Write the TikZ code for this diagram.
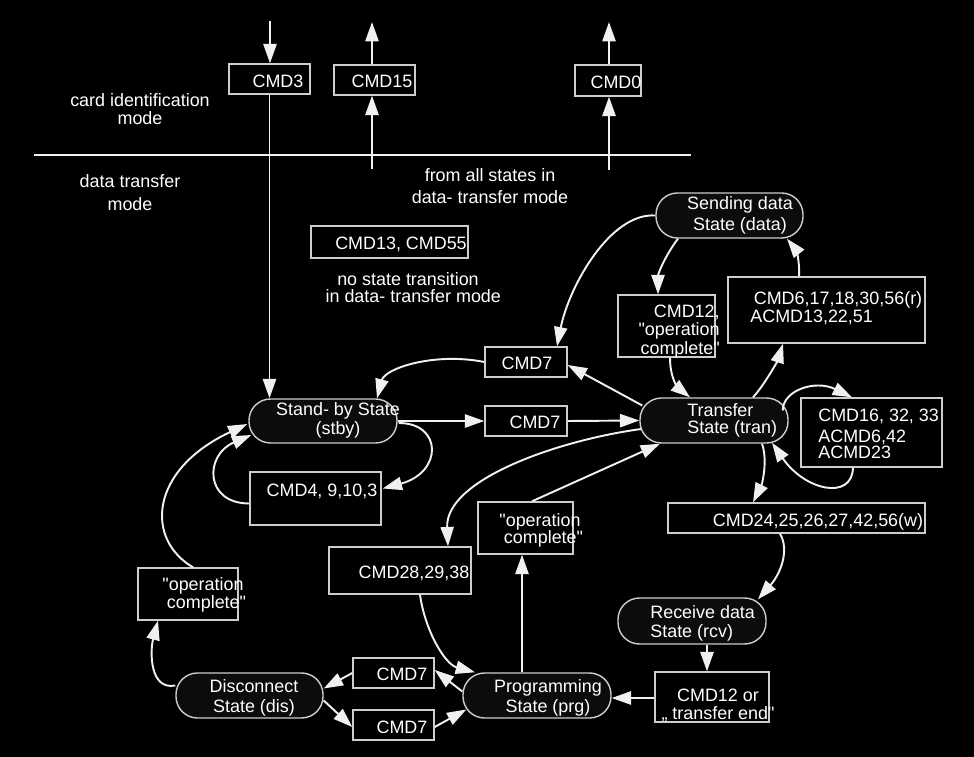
\documentclass[tikz,border=0pt]{standalone}
\usepackage{fontspec}
\setmainfont{Liberation Sans}[Ligatures=TeXOff]
\usetikzlibrary{arrows.meta,calc,fit}
\definecolor{bxline}{RGB}{205,205,205}
\definecolor{cnline}{RGB}{240,240,240}
\definecolor{stfill}{RGB}{12,12,12}
\begin{document}
\begin{tikzpicture}[x=0.02cm,y=-0.02cm,
  box/.style={draw=bxline,line width=0.8pt,fill=black,inner sep=0pt},
  state/.style={draw=bxline,line width=0.8pt,fill=stfill,inner sep=0pt,rounded corners=0.43cm},
  txt/.style={text=white,inner sep=0pt,font=\fontsize{10.2pt}{11pt}\selectfont},
  arr/.style={draw=cnline,line width=1.1pt,-{Triangle[length=11pt,width=7.5pt]}},
  sep/.style={draw=cnline,line width=0.9pt}]
\fill[black] (0,0) rectangle (974,757);
\useasboundingbox (0,0) rectangle (974,757);

% ---------- boxes ----------
\node[box,fit={(229,64) (310,94)}] (cmd3) {};
\node[box,fit={(334,65) (415,95)}] (cmd15) {};
\node[box,fit={(575,65) (641,96)}] (cmd0) {};
\node[box,fit={(311,226) (468,258)}] (cmd13) {};
\node[box,fit={(485,347) (567,377)}] (c7a) {};
\node[box,fit={(485,406) (567,436)}] (c7b) {};
\node[box,fit={(250,472) (381,525)}] (cmd4) {};
\node[box,fit={(478,502) (573,554)}] (opc1) {};
\node[box,fit={(329,547) (471,594)}] (cmd28) {};
\node[box,fit={(138,568) (238,620)}] (opc2) {};
\node[box,fit={(353,658) (434,688)}] (c7c) {};
\node[box,fit={(353,710) (434,740)}] (c7d) {};
\node[box,fit={(618,295) (715,357)}] (cmd12a) {};
\node[box,fit={(728,277) (925,343)}] (cmd6) {};
\node[box,fit={(801,398) (942,467)}] (cmd16) {};
\node[box,fit={(668,503) (925,533)}] (cmd24) {};
\node[box,fit={(655,672) (769,722)}] (cmd12b) {};

% ---------- states ----------
\node[state,fit={(249,399) (397,443)}] (stby) {};
\node[state,fit={(656,193) (803,238)}] (data) {};
\node[state,fit={(640,398) (788,443)}] (tran) {};
\node[state,fit={(618,598) (766,644)}] (rcv) {};
\node[state,fit={(463,673) (611,718)}] (prg) {};
\node[state,fit={(176,673) (323,718)}] (dis) {};

% ---------- mode separator ----------
\coordinate (hl1) at (34,155);
\coordinate (hl2) at (691,155);
\draw[sep] (hl1) -- (hl2);

% ---------- top arrows ----------
\coordinate (in3) at (270,21);
\draw[arr] (in3) -- (in3 |- cmd3.north);
\draw[arr] (cmd3.south) -- (cmd3.south |- stby.north);
\coordinate (f15) at (372,169);
\coordinate (o15) at (372,22);
\draw[arr] (f15) -- (f15 |- cmd15.south);
\draw[arr] (f15 |- cmd15.north) -- (o15);
\coordinate (f0) at (609,170);
\coordinate (o0) at (609,22);
\draw[arr] (f0) -- (f0 |- cmd0.south);
\draw[arr] (f0 |- cmd0.north) -- (o0);

% ---------- connectors ----------
\draw[arr] (data.west) .. controls +(-45,-3) and +(12,-60) .. ($(c7a.north)+(31,0)$);
\draw[arr] (c7a.west) .. controls +(-50,-10) and +(8,-30) .. ($(stby.north)+(54,0)$);
\draw[arr] ($(tran.west)+(3,-15)$) -- ($(c7a.east)+(0,3)$);
\draw[arr] (stby.east) -- (c7b.west);
\draw[arr] (c7b.east) -- (tran.west);
\draw[arr] ($(stby.east)+(1,2)$) .. controls +(44,0) and +(60,-16) .. ($(cmd4.east)+(1,-10)$);
\draw[arr] ($(cmd4.west)+(0,5)$) .. controls +(-45,0) and +(-47,20) .. ($(stby.west)+(3,14)$);
\draw[arr] ($(opc2.north)+(5,0)$) .. controls +(-48,-28) and +(-98,46) .. ($(stby.west)+(-1,3)$);
\draw[arr] ($(dis.west)+(0,-10)$) .. controls +(-26,5) and +(-8,30) .. ($(opc2.south)+(-30,0)$);
\draw[arr] (c7c.west) -- ($(dis.east)+(0,-7)$);
\draw[arr] ($(dis.east)+(0,5)$) -- ($(c7d.west)+(0,2)$);
\draw[arr] ($(c7d.east)+(0,2)$) -- ($(prg.west)+(4,14)$);
\draw[arr] ($(prg.west)+(0,-4)$) -- ($(c7c.east)+(0,-3)$);
\draw[arr] ($(cmd28.south)+(20,0)$) .. controls +(5,36) and +(-30,-8) .. ($(prg.north)+(-62,0)$);
\draw[arr] ($(tran.west)+(2,8.5)$) .. controls +(-82,11) and +(-3,-67) .. ($(cmd28.north)+(48,0)$);
\draw[arr] ($(prg.north)+(-15,0)$) -- ($(opc1.south)+(-3.5,0)$);
\draw[arr] ($(opc1.north)+(6.5,0)$) -- ($(tran.south)+(-54,0)$);
\draw[arr] ($(data.south)+(-51.5,0)$) .. controls +(-13,17) and +(0,-20) .. ($(cmd12a.north)+(-8.5,0)$);
\draw[arr] ($(cmd12a.south)+(3.5,0)$) .. controls +(0,23) and +(-10,-8) .. ($(tran.north)+(-24,0)$);
\draw[arr] ($(tran.north)+(39,0)$) .. controls +(12,-13) and +(-5,16) .. ($(cmd6.south)+(-43.5,0)$);
\draw[arr] ($(cmd6.north)+(-27.5,0)$) .. controls +(1,-17) and +(8,10) .. ($(data.south)+(57.5,0)$);
\draw[arr] ($(tran.east)+(-6,-10)$) .. controls +(0,-20) and +(-37,-18) .. ($(cmd16.north)+(-19.5,0)$);
\draw[arr] ($(cmd16.south)+(-18.5,0)$) .. controls +(-1,33) and +(33,48) .. ($(tran.south)+(58,-1)$);
\draw[arr] ($(tran.south)+(48,0)$) .. controls +(6,17) and +(9,-18) .. ($(cmd24.north)+(-43.5,0)$);
\draw[arr] ($(cmd24.south)+(-16.5,0)$) .. controls +(10,17) and +(22,-25) .. ($(rcv.north)+(66,2)$);
\draw[arr] ($(rcv.south)+(15,0)$) -- ($(cmd12b.north)+(-5,0)$);
\draw[arr] ($(cmd12b.west)+(0,1)$) -- ($(prg.east)+(0,2.5)$);

% ---------- free texts ----------
\node[txt,align=center,font=\fontsize{10.2pt}{10.2pt}\selectfont] (tcim) at (140,109) {card identification\\mode};
\node[txt,align=center,font=\fontsize{10.2pt}{13pt}\selectfont] (tdtm) at (130,193) {data transfer\\mode};
\node[txt,align=center,font=\fontsize{10.2pt}{12.5pt}\selectfont] (tfrom) at (490,186) {from all states in\\data- transfer mode};
\node[txt,align=center,font=\fontsize{10.2pt}{9.8pt}\selectfont] (tnost) at (408,287.5) {no state transition\\\hspace*{6pt}in data- transfer mode};

% ---------- box texts ----------
\node[txt] (tcmd3) at (278,81) {CMD3};
\node[txt] (tcmd15) at (382,81) {CMD15};
\node[txt] (tcmd0) at (616,82) {CMD0};
\node[txt] (tcmd13) at (401,244) {CMD13, CMD55};
\node[txt] (tc7a) at (527,363) {CMD7};
\node[txt] (tc7b) at (535,422) {CMD7};
\node[txt] (tcmd4) at (322,491) {CMD4, 9,10,3};
\node[txt,align=center,font=\fontsize{10.2pt}{9.8pt}\selectfont] (topc1) at (540,530) {"operation\\\hspace*{4pt}complete"};
\node[txt] (tcmd28) at (414,573) {CMD28,29,38};
\node[txt,align=center,font=\fontsize{10.2pt}{10.2pt}\selectfont] (topc2) at (203,595) {"operation\\\hspace*{4pt}complete"};
\node[txt] (tc7c) at (402,674) {CMD7};
\node[txt] (tc7d) at (402,727) {CMD7};
\node[txt,align=right,anchor=east,font=\fontsize{10.2pt}{10.5pt}\selectfont] (tcmd12a) at (720,331.5) {CMD12,\\"operation\\complete"};
\node[txt,align=left,anchor=west,font=\fontsize{10.2pt}{10.2pt}\selectfont] (tcmd6) at (750,308) {\hspace*{2pt}CMD6,17,18,30,56(r)\\ACMD13,22,51};
\node[txt,align=left,anchor=west,font=\fontsize{10.2pt}{9.4pt}\selectfont] (tcmd16) at (818,434) {CMD16, 32, 33\\[2.5pt]ACMD6,42\\ACMD23};
\node[txt] (tcmd24) at (818,522) {CMD24,25,26,27,42,56(w)};
\node[txt,align=center,font=\fontsize{10.2pt}{10.2pt}\selectfont] (tcmd12b) at (718,705) {CMD12 or\\„ transfer end"};

% ---------- state texts ----------
\node[txt,align=center,font=\fontsize{10.2pt}{10.8pt}\selectfont] (tstby) at (338,420.5) {Stand- by State\\(stby)};
\node[txt,align=center,font=\fontsize{10.2pt}{11.9pt}\selectfont] (tdata) at (740,215.5) {Sending data\\State (data)};
\node[txt,align=left,anchor=west,font=\fontsize{10.2pt}{9.4pt}\selectfont] (ttran) at (687,420.5) {Transfer\\State (tran)};
\node[txt,align=left,anchor=west,font=\fontsize{10.2pt}{10.8pt}\selectfont] (trcv) at (650,623.5) {Receive data\\State (rcv)};
\node[txt,align=center,font=\fontsize{10.2pt}{11.3pt}\selectfont] (tprg) at (548,698) {Programming\\State (prg)};
\node[txt,align=center,font=\fontsize{10.2pt}{11.3pt}\selectfont] (tdis) at (254,698) {Disconnect\\State (dis)};
\end{tikzpicture}
\end{document}
